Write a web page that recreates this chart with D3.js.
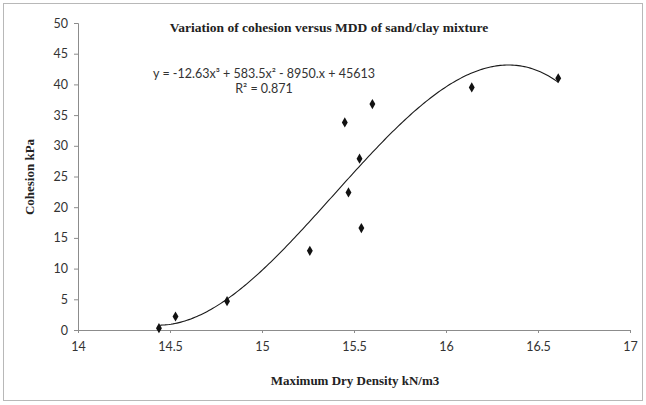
<!DOCTYPE html>
<html>
<head>
<meta charset="utf-8">
<script src="https://cdn.jsdelivr.net/npm/d3@7"></script>
<style>
  html, body { margin: 0; padding: 0; background: #fff; }
  svg { display: block; }
</style>
</head>
<body>
<svg id="chart" width="646" height="405"></svg>
<script>
// Maximum dry density (kN/m3) and cohesion (kPa) of the sand/clay mixes
const mdd      = [14.44, 14.53, 14.81, 15.26, 15.45, 15.47, 15.53, 15.54, 15.60, 16.14, 16.61];
const cohesion = [0.3,   2.2,   4.7,   12.9,  33.8,  22.4,  27.9,  16.6,  36.8,  39.5,  41.0];

const xTicks = [14, 14.5, 15, 15.5, 16, 16.5, 17];
const yTicks = [0, 5, 10, 15, 20, 25, 30, 35, 40, 45, 50];

const titleText = "Variation of cohesion versus MDD of sand/clay mixture";
const xTitle = "Maximum Dry Density kN/m3";
const yTitle = "Cohesion kPa";
const eqText = "y = -12.63x\u00B3 + 583.5x\u00B2 - 8950.x + 45613";
const r2Text = "R\u00B2 = 0.871";

const svg = d3.select("#chart");

// chart area frame
svg.append("rect")
  .attr("x", 3.5).attr("y", 3.5).attr("width", 639).attr("height", 397)
  .attr("fill", "#fff").attr("stroke", "#b8b8b8").attr("stroke-width", 1);

const x = d3.scaleLinear().domain([14, 17]).range([78, 630]);
const y = d3.scaleLinear().domain([0, 50]).range([330, 23]);

const tickFont = "Lato, 'Open Sans', sans-serif";
const serif = "'Liberation Serif', 'Times New Roman', serif";

// axes
const yAxis = svg.append("g")
  .attr("transform", `translate(${x(14)},0)`)
  .call(d3.axisLeft(y).tickValues(yTicks).tickSize(4).tickPadding(6));
const xAxis = svg.append("g")
  .attr("transform", `translate(0,${y(0)})`)
  .call(d3.axisBottom(x).tickValues(xTicks).tickSize(3).tickPadding(9)
    .tickFormat(d3.format("")));

[yAxis, xAxis].forEach(g => {
  g.select(".domain").attr("stroke", "#8c8c8c");
  g.selectAll(".tick line").attr("stroke", "#8c8c8c");
  g.selectAll(".tick text")
    .attr("fill", "#333").style("font-family", tickFont).style("font-size", "12.5px");
});

// cubic least-squares trendline, fitted on centred x
const xm = d3.mean(mdd);
const deg = 3;
const A = Array.from({length: deg + 1}, () => new Array(deg + 2).fill(0));
mdd.forEach((xi, k) => {
  const t = xi - xm;
  for (let i = 0; i <= deg; i++) {
    for (let j = 0; j <= deg; j++) A[i][j] += Math.pow(t, i + j);
    A[i][deg + 1] += Math.pow(t, i) * cohesion[k];
  }
});
for (let c = 0; c <= deg; c++) {
  let p = c;
  for (let r = c + 1; r <= deg; r++) if (Math.abs(A[r][c]) > Math.abs(A[p][c])) p = r;
  [A[c], A[p]] = [A[p], A[c]];
  for (let r = 0; r <= deg; r++) {
    if (r === c) continue;
    const f = A[r][c] / A[c][c];
    for (let k = c; k <= deg + 1; k++) A[r][k] -= f * A[c][k];
  }
}
const coef = A.map((row, i) => row[deg + 1] / row[i]);
const fit = v => coef.reduce((s, a, i) => s + a * Math.pow(v - xm, i), 0);

const [xmin, xmax] = d3.extent(mdd);
const curve = d3.range(0, 201).map(i => {
  const v = xmin + (xmax - xmin) * i / 200;
  return [v, fit(v)];
});

svg.append("path")
  .datum(curve)
  .attr("fill", "none").attr("stroke", "#1a1a1a").attr("stroke-width", 1.1)
  .attr("d", d3.line().x(d => x(d[0])).y(d => y(d[1])));

// observations
svg.append("g").selectAll("path")
  .data(mdd.map((v, i) => [v, cohesion[i]]))
  .join("path")
  .attr("transform", d => `translate(${x(d[0])},${y(d[1])})`)
  .attr("d", d3.symbol(d3.symbolDiamond, 30))
  .attr("fill", "#111");

// titles
svg.append("text")
  .attr("x", 329).attr("y", 32).attr("text-anchor", "middle")
  .style("font-family", serif).style("font-weight", "bold").style("font-size", "13.5px")
  .attr("fill", "#222").text(titleText);

svg.append("text")
  .attr("x", 355).attr("y", 385).attr("text-anchor", "middle")
  .style("font-family", serif).style("font-weight", "bold").style("font-size", "13px")
  .attr("fill", "#222").text(xTitle);

svg.append("text")
  .attr("transform", "translate(34,177) rotate(-90)").attr("text-anchor", "middle")
  .style("font-family", serif).style("font-weight", "bold").style("font-size", "13px")
  .attr("fill", "#222").text(yTitle);

// trendline equation
svg.append("text")
  .attr("x", 264).attr("y", 78).attr("text-anchor", "middle")
  .style("font-family", tickFont).style("font-size", "12.5px")
  .attr("fill", "#333").text(eqText);
svg.append("text")
  .attr("x", 264).attr("y", 93).attr("text-anchor", "middle")
  .style("font-family", tickFont).style("font-size", "12.5px")
  .attr("fill", "#333").text(r2Text);
</script>
</body>
</html>
